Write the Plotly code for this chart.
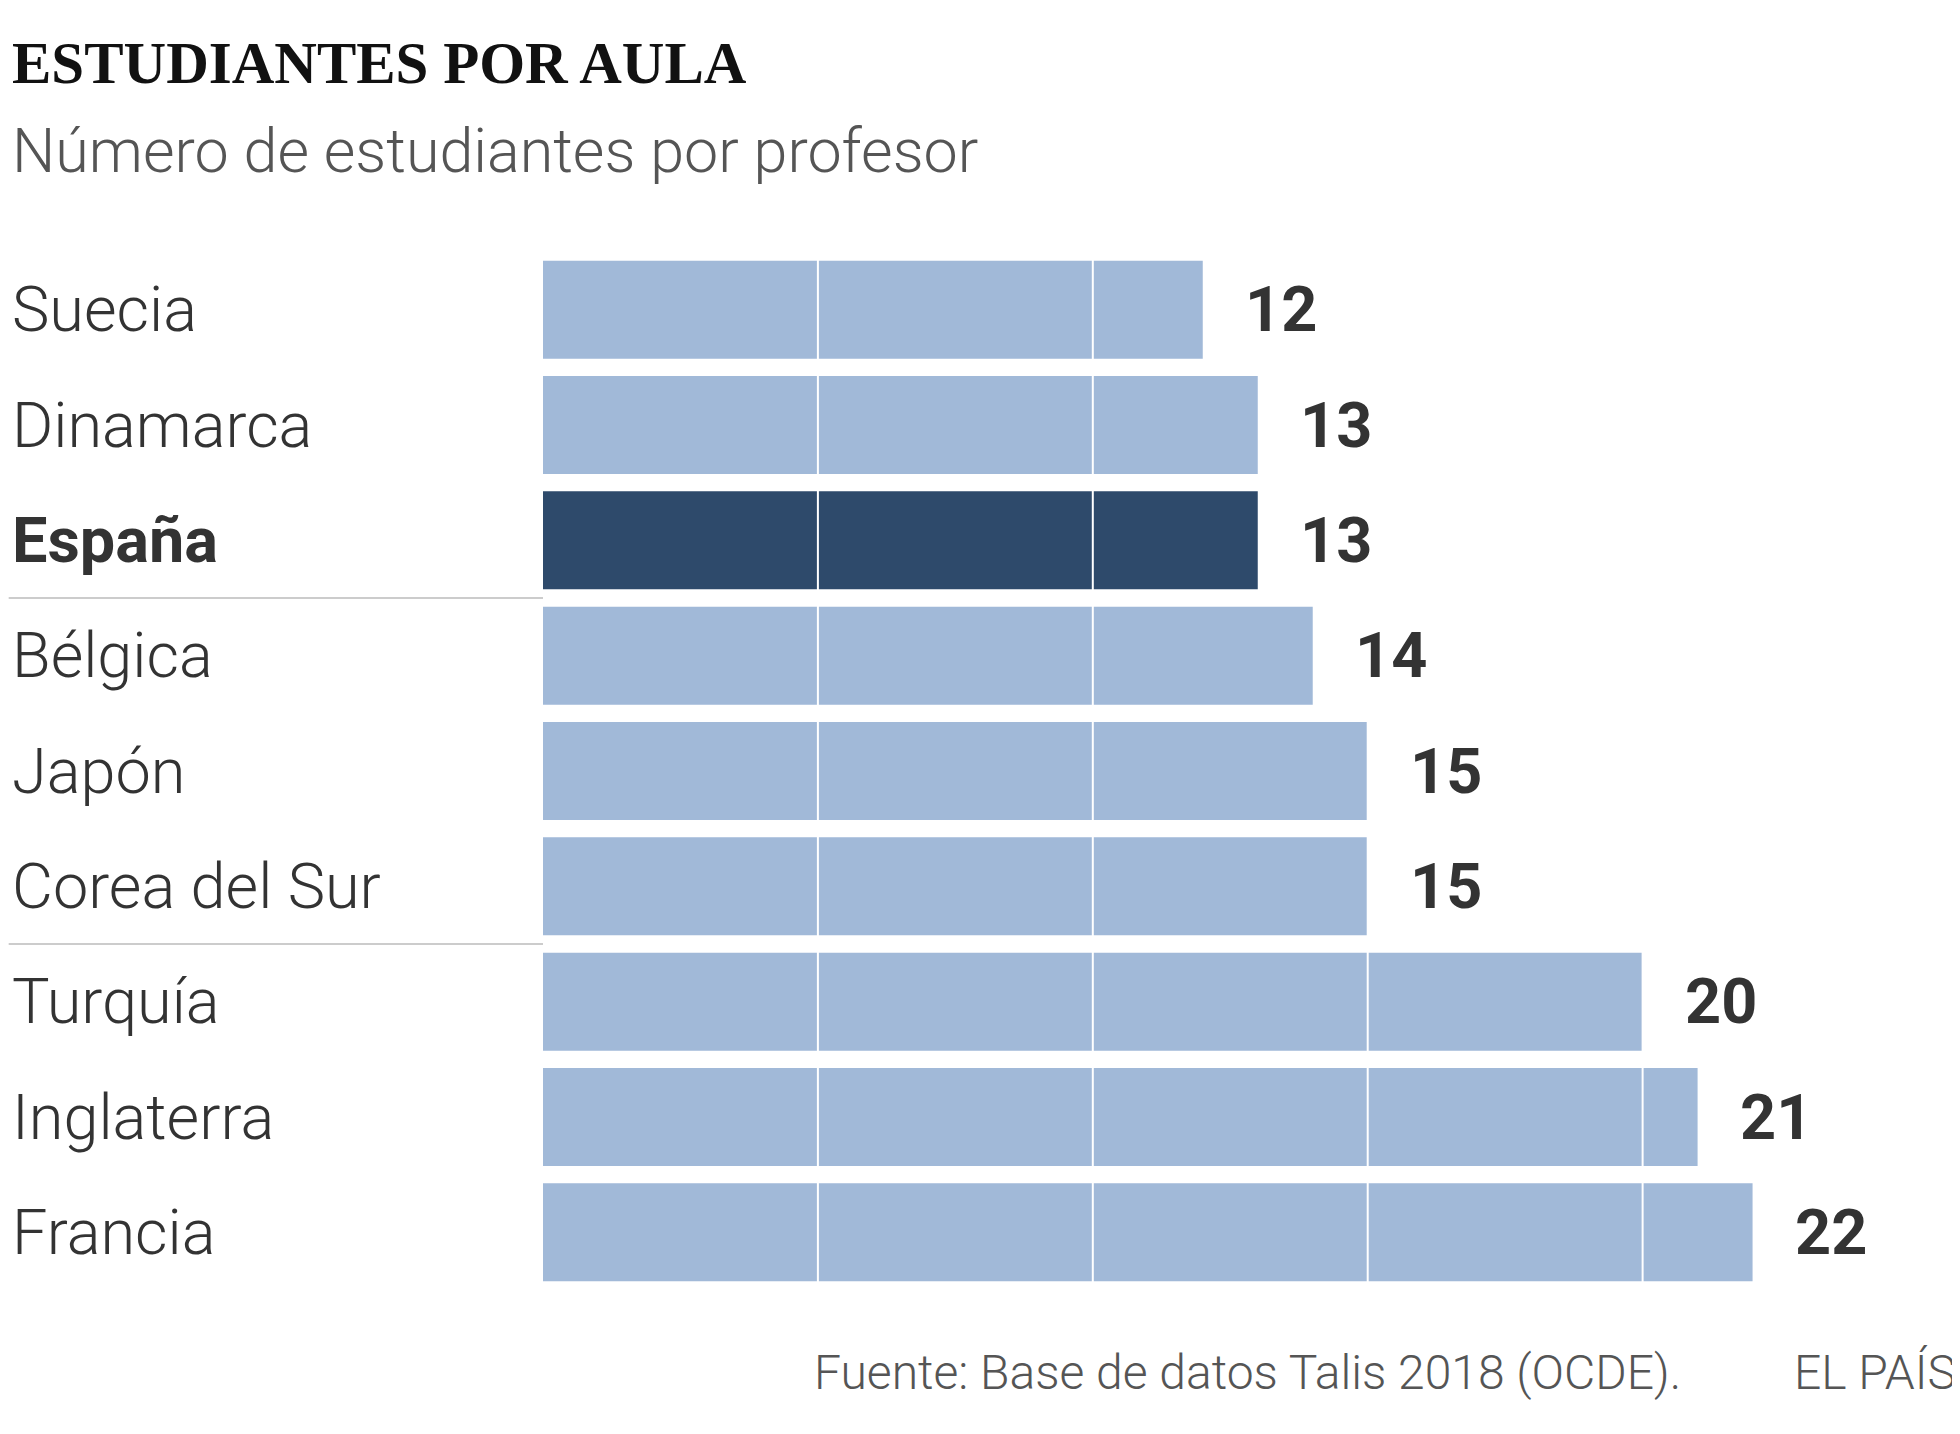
import plotly.graph_objects as go

# ---- data ----
countries = ["Suecia", "Dinamarca", "España", "Bélgica", "Japón",
             "Corea del Sur", "Turquía", "Inglaterra", "Francia"]
values = [12, 13, 13, 14, 15, 15, 20, 21, 22]
highlight = "España"
grid_values = [5, 10, 15, 20]
separators_after = ["España", "Corea del Sur"]

title = "ESTUDIANTES POR AULA"
subtitle = "Número de estudiantes por profesor"
source = "Fuente: Base de datos Talis 2018 (OCDE)."
brand = "EL PAÍS"

# ---- layout geometry (page body has an 8px margin) ----
OFF = 8
W, H = 1960 - OFF, 1434 - OFF
ML, MR, MT, MB = 542.5 - OFF, 15, 251.5 - OFF, 152 - OFF
PW = W - ML - MR
PH = H - MT - MB

LIGHT = "#a1b9d8"
DARK = "#2e4a6b"
TEXT = "#333333"
SANS = "Roboto, Lato, sans-serif"


def px_x(px):
    return (px - OFF - ML) / PW


def px_y(py):
    return (H - MB - (py - OFF)) / PH


LEFT = OFF + 1

colors = [DARK if c == highlight else LIGHT for c in countries]

fig = go.Figure()
fig.add_trace(go.Bar(
    x=values, y=countries, orientation="h",
    marker=dict(color=colors, line=dict(width=0)),
    hoverinfo="skip", showlegend=False,
))

annotations = []
# title
annotations.append(dict(
    x=px_x(LEFT), xref="paper", y=px_y(62), yref="paper",
    text=f"<b>{title}</b>", xanchor="left", yanchor="middle", showarrow=False,
    font=dict(family="Liberation Serif, serif", size=59, color="#111111"),
))
# category labels (left aligned)
for c in countries:
    annotations.append(dict(
        x=px_x(LEFT), xref="paper", y=c, yref="y",
        text=f"<b>{c}</b>" if c == highlight else c,
        xanchor="left", yanchor="middle", showarrow=False,
        font=dict(family=SANS, size=63, color=TEXT,
                  weight=700 if c == highlight else 300),
    ))
# value labels
for c, v in zip(countries, values):
    annotations.append(dict(
        x=v, xref="x", y=c, yref="y", text=f"<b>{v}</b>",
        xanchor="left", yanchor="middle", xshift=40, showarrow=False,
        font=dict(family=SANS, size=63, color=TEXT),
    ))
# subtitle
annotations.append(dict(
    x=px_x(LEFT), xref="paper", y=px_y(150), yref="paper",
    text=subtitle, xanchor="left", yanchor="middle", showarrow=False,
    font=dict(family=SANS, size=61, color="#555555", weight=300),
))
# footer
annotations.append(dict(
    x=px_x(812), xref="paper", y=px_y(1373), yref="paper",
    text=source, xanchor="left", yanchor="middle", showarrow=False,
    font=dict(family=SANS, size=48, color="#555555", weight=300),
))
annotations.append(dict(
    x=px_x(1958), xref="paper", y=px_y(1373), yref="paper",
    text=brand, xanchor="right", yanchor="middle", showarrow=False,
    font=dict(family=SANS, size=48, color="#555555", weight=300),
))

shapes = []
for g in grid_values:
    shapes.append(dict(type="line", xref="x", yref="paper",
                       x0=g, x1=g, y0=0, y1=1, layer="above",
                       line=dict(color="white", width=2)))
for s in separators_after:
    i = countries.index(s)
    shapes.append(dict(type="line", xref="paper", yref="y",
                       x0=px_x(OFF), x1=0, y0=i + 0.5, y1=i + 0.5,
                       layer="above",
                       line=dict(color="#cccccc", width=2)))

fig.update_layout(
    width=W, height=H,
    margin=dict(l=ML, r=MR, t=MT, b=MB, pad=0),
    paper_bgcolor="white", plot_bgcolor="white",
    bargap=0.15,
    xaxis=dict(range=[0, 25.5], showgrid=False, zeroline=False,
               showticklabels=False, ticks="", showline=False, fixedrange=True),
    yaxis=dict(categoryorder="array", categoryarray=countries,
               autorange="reversed", showgrid=False, zeroline=False,
               showticklabels=False, ticks="", showline=False, fixedrange=True),
    annotations=annotations, shapes=shapes,
)

fig.write_html("out.html", config={"displayModeBar": False})
